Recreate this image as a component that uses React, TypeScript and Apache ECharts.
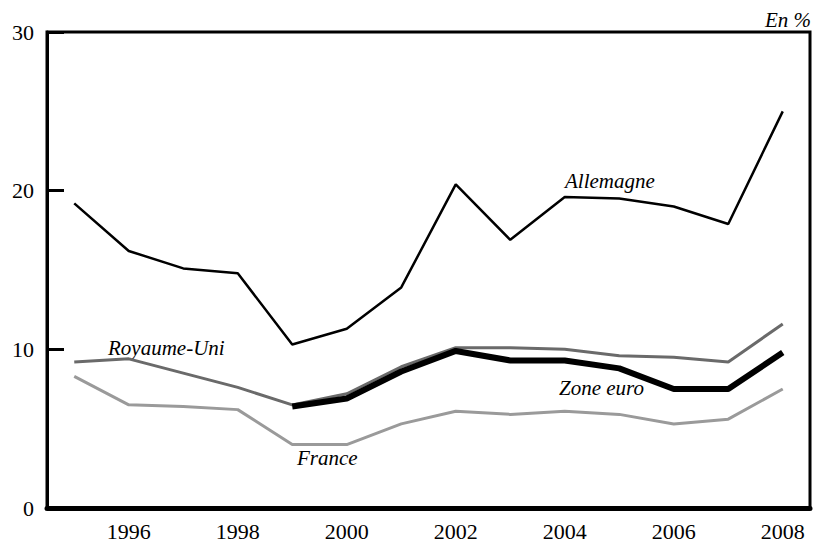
import React, { useEffect, useRef } from "react";
import * as echarts from "echarts";

const years = ["1995", "1996", "1997", "1998", "1999", "2000", "2001", "2002", "2003", "2004", "2005", "2006", "2007", "2008"];
const allemagne = [19.2, 16.2, 15.1, 14.8, 10.3, 11.3, 13.9, 20.4, 16.9, 19.6, 19.5, 19.0, 17.9, 25.0];
const royaumeUni = [9.2, 9.4, 8.5, 7.6, 6.5, 7.2, 8.9, 10.1, 10.1, 10.0, 9.6, 9.5, 9.2, 11.6];
const zoneEuro = ["-", "-", "-", "-", 6.4, 6.9, 8.6, 9.9, 9.3, 9.3, 8.8, 7.5, 7.5, 9.8];
const france = [8.3, 6.5, 6.4, 6.2, 4.0, 4.0, 5.3, 6.1, 5.9, 6.1, 5.9, 5.3, 5.6, 7.5];
const yTicks = { min: 0, max: 30, interval: 10 };

const FONT = "serif";

export default function App() {
  const ref = useRef<HTMLDivElement>(null);
  useEffect(() => {
    if (!ref.current) return;
    const chart = echarts.init(ref.current, undefined, { renderer: "svg" });
    const italic = (text: string, x: number, y: number, align?: string) => ({
      type: "text",
      x,
      y,
      style: {
        text,
        fontFamily: FONT,
        fontStyle: "italic",
        fontSize: 21,
        fill: "#000",
        align,
        verticalAlign: "middle",
      },
    });
    chart.setOption({
      animation: false,
      textStyle: { fontFamily: FONT },
      grid: {
        left: 47,
        right: 4,
        top: 32,
        bottom: 32,
        show: true,
        borderColor: "#000",
        borderWidth: 3,
      },
      xAxis: {
        type: "category",
        data: years,
        axisLine: { lineStyle: { color: "#000", width: 5 } },
        axisTick: { inside: true, length: 20, lineStyle: { color: "#000", width: 3 } },
        axisLabel: {
          interval: 0,
          formatter: (v: string) => (Number(v) % 2 === 0 ? v : ""),
          fontFamily: FONT,
          fontSize: 22,
          color: "#000",
          margin: 12,
        },
        splitLine: { show: false },
      },
      yAxis: {
        type: "value",
        min: yTicks.min,
        max: yTicks.max,
        interval: yTicks.interval,
        axisLine: { show: true, lineStyle: { color: "#000", width: 3 } },
        axisTick: { show: true, inside: true, length: 17, lineStyle: { color: "#000", width: 3 } },
        axisLabel: {
          fontFamily: FONT,
          fontSize: 22,
          color: "#000",
          margin: 13,
        },
        splitLine: { show: false },
      },
      series: [
        { name: "France", type: "line", data: france, symbol: "none", lineStyle: { color: "#9a9a9a", width: 3 }, z: 2 },
        { name: "Royaume-Uni", type: "line", data: royaumeUni, symbol: "none", lineStyle: { color: "#6a6a6a", width: 3 }, z: 3 },
        { name: "Zone euro", type: "line", data: zoneEuro, symbol: "none", lineStyle: { color: "#000", width: 6 }, z: 4 },
        { name: "Allemagne", type: "line", data: allemagne, symbol: "none", lineStyle: { color: "#000", width: 2.5 }, z: 5 },
      ],
      graphic: [
        italic("En %", 811, 20, "right"),
        italic("Allemagne", 565, 181),
        italic("Royaume-Uni", 108, 348),
        italic("Zone euro", 559, 388),
        italic("France", 297, 458),
      ],
    });
    return () => chart.dispose();
  }, []);
  return <div ref={ref} style={{ position: "fixed", left: 0, top: 0, width: 814, height: 542, background: "#fff" }} />;
}
